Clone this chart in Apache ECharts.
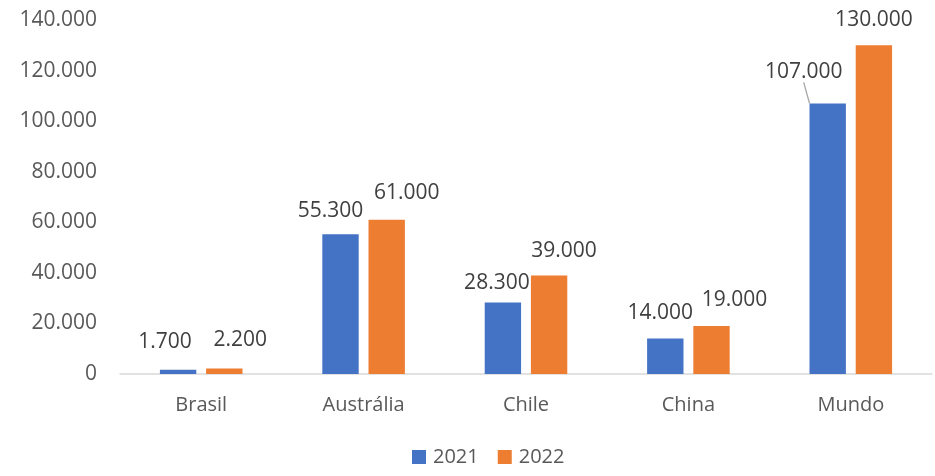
<!DOCTYPE html>
<html>
<head>
<meta charset="utf-8">
<script src="https://cdn.jsdelivr.net/npm/echarts@6/dist/echarts.min.js"></script>
<style>html,body{margin:0;padding:0;background:#fff}#c{width:935px;height:476px}</style>
</head>
<body>
<div id="c"></div>
<script>
const categories = ['Brasil', 'Austrália', 'Chile', 'China', 'Mundo'];
const seriesNames = ['2021', '2022'];
const values2021 = [1700, 55300, 28300, 14000, 107000];
const values2022 = [2200, 61000, 39000, 19000, 130000];
const yTicks = { min: 0, max: 140000, interval: 20000 };

function fmt(v) {
  return String(Math.round(v)).replace(/\B(?=(\d{3})+(?!\d))/g, '.');
}

// label nudges (styling only): [dx, dy] per series per category
const nudges = [
  [[-13, -12], [-10, -8], [-6, -4], [-5, -10], [-24, -16]],
  [[16, -13], [20, -11], [15, -9], [23, -10], [0, -10]]
];

const font = '"Open Sans", "Noto Sans", sans-serif';
const chart = echarts.init(document.getElementById('c'), null, { renderer: 'canvas' });

function makeSeries(name, vals, color, si) {
  return {
    name: name,
    type: 'bar',
    barWidth: '22.4%',
    barGap: '27%',
    itemStyle: { color: color },
    data: vals.map((v, i) => (si === 0 && i === 4)
      ? { value: v, labelLine: { show: true, lineStyle: { color: '#A6A6A6', width: 1.3 } } }
      : v),
    label: {
      show: true,
      position: 'top',
      distance: 5,
      color: '#404040',
      fontFamily: font,
      fontSize: 21,
      formatter: p => fmt(p.value)
    },
    labelLayout: function (p) {
      const n = nudges[si][p.dataIndex];
      return { dx: n[0], dy: n[1] };
    }
  };
}

chart.setOption({
  animation: false,
  backgroundColor: '#fff',
  textStyle: { fontFamily: font },
  grid: { left: 120, right: 3, top: 20, bottom: 102, containLabel: false },
  legend: {
    bottom: 4,
    left: 407,
    itemWidth: 14,
    itemHeight: 14,
    itemGap: 19,
    icon: 'rect',
    textStyle: { color: '#595959', fontSize: 20, fontFamily: font, padding: [0, 0, 0, 2] },
    data: seriesNames
  },
  xAxis: {
    type: 'category',
    data: categories,
    axisLine: { lineStyle: { color: '#D9D9D9', width: 1.5 } },
    axisTick: { show: false },
    axisLabel: { color: '#595959', fontSize: 20, fontFamily: font, margin: 21 }
  },
  yAxis: {
    type: 'value',
    min: yTicks.min,
    max: yTicks.max,
    interval: yTicks.interval,
    axisLine: { show: false },
    axisTick: { show: false },
    splitLine: { show: false },
    axisLabel: { color: '#595959', fontSize: 21, fontFamily: font, margin: 23, formatter: v => fmt(v) }
  },
  series: [
    makeSeries(seriesNames[0], values2021, '#4472C4', 0),
    makeSeries(seriesNames[1], values2022, '#ED7D31', 1)
  ]
});
</script>
</body>
</html>
